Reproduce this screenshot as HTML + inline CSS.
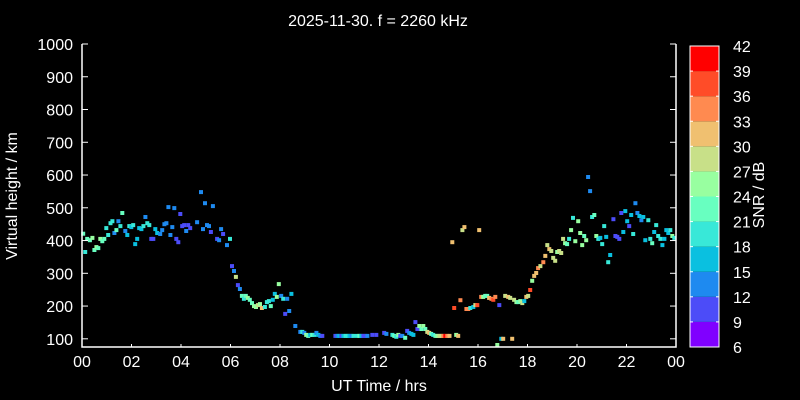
<!DOCTYPE html>
<html><head><meta charset="utf-8"><style>
html,body{margin:0;padding:0;background:#000;width:800px;height:400px;overflow:hidden}
svg text{font-family:"Liberation Sans",sans-serif;fill:#fff}
</style></head><body>
<svg id="chart" width="800" height="400" xmlns="http://www.w3.org/2000/svg">
<rect width="800" height="400" fill="#000"/>
<text x="378" y="26" font-size="16" text-anchor="middle">2025-11-30. f = 2260 kHz</text>
<text x="379" y="391" font-size="16" text-anchor="middle">UT Time / hrs</text>
<text transform="translate(17,196) rotate(-90)" font-size="16" text-anchor="middle">Virtual height / km</text>
<text transform="translate(764,195) rotate(-90)" font-size="16" text-anchor="middle">SNR / dB</text>
<g id="marks"></g><g id="axes"></g><g id="cbar"></g>
</svg>
<script>
const hours=[0.05,0.13,0.21,0.32,0.42,0.50,0.58,0.66,0.74,0.82,0.90,0.98,1.06,1.15,1.23,1.31,1.39,1.47,1.55,1.63,1.75,1.83,1.91,1.99,2.07,2.15,2.23,2.31,2.40,2.48,2.56,2.64,2.72,2.80,2.88,2.96,3.04,3.16,3.24,3.33,3.41,3.49,3.57,3.65,3.73,3.81,3.89,3.97,4.05,4.13,4.21,4.29,4.37,4.65,4.81,4.89,4.97,5.05,5.13,5.21,5.29,5.46,5.54,5.62,5.70,5.86,5.98,6.06,6.14,6.22,6.30,6.38,6.46,6.54,6.62,6.70,6.78,6.87,6.95,7.03,7.11,7.19,7.27,7.39,7.47,7.55,7.63,7.71,7.79,7.87,7.95,8.05,8.13,8.29,8.46,8.21,8.37,8.62,8.82,8.90,8.98,9.06,9.14,9.22,9.30,9.39,9.47,9.55,9.63,9.71,10.24,10.32,10.40,10.48,10.56,10.65,10.73,10.81,10.89,10.97,11.13,11.21,11.29,11.37,11.45,11.53,11.73,11.89,12.21,12.30,12.54,12.62,12.70,12.78,12.86,12.94,13.06,13.14,13.22,13.31,13.39,13.47,13.55,13.63,13.71,13.79,13.87,13.95,14.03,14.11,14.19,14.28,14.36,14.44,14.52,14.60,14.68,14.76,14.85,15.12,15.20,15.04,15.29,14.96,15.37,15.45,16.05,15.53,15.61,15.69,15.81,15.89,15.97,16.13,16.21,16.29,16.37,16.45,16.54,16.62,16.70,16.86,17.10,17.22,17.30,17.46,17.55,17.63,17.71,17.79,17.87,17.95,18.03,18.11,18.19,18.27,18.35,18.43,18.52,18.64,18.72,18.80,18.88,18.96,19.04,19.12,19.20,19.28,19.36,19.44,19.52,19.60,19.68,19.76,19.84,19.93,20.05,20.13,20.21,20.29,20.37,20.45,20.53,20.61,20.70,20.78,20.86,20.94,21.02,21.10,21.18,21.26,21.34,21.47,21.55,21.63,21.71,21.79,21.87,21.95,22.03,22.11,22.19,22.27,22.36,22.44,22.52,22.60,22.68,22.76,22.88,22.96,23.04,23.12,23.20,23.28,23.37,23.45,23.53,23.61,23.69,23.77,23.85,23.93,16.94,17.02,17.38,16.78];
const heights=[421,365,405,401,408,371,380,377,405,398,405,438,417,453,459,423,432,459,444,484,429,417,444,441,447,389,405,438,435,444,472,453,447,405,405,435,423,420,432,450,453,502,417,441,499,405,395,481,444,447,429,447,438,456,548,435,514,447,444,426,505,405,401,435,420,386,405,322,307,289,264,252,231,222,231,225,219,209,200,197,203,206,194,197,212,215,200,219,237,228,267,231,222,222,237,176,185,139,121,121,118,112,109,112,112,112,118,112,109,109,109,109,109,109,109,109,109,109,109,109,109,109,109,109,109,109,112,112,118,115,112,109,106,112,109,109,103,124,118,115,112,151,130,139,130,139,130,121,118,115,112,109,109,109,109,109,109,109,109,112,109,194,218,395,432,441,432,191,191,194,197,203,203,228,228,231,231,225,222,219,228,203,231,228,225,219,212,212,215,209,215,228,231,249,277,292,301,316,322,334,353,386,374,368,347,338,365,368,362,405,392,389,405,432,469,398,459,423,386,414,401,594,551,472,478,414,405,408,389,444,411,334,356,465,414,411,405,484,426,490,459,444,478,420,514,484,475,462,472,401,462,405,392,426,447,414,405,386,405,432,423,432,414,408,100,100,100,81];
const snr=[22,20,22,22,24,22,24,22,24,22,22,20,20,20,20,13,22,13,20,22,13,16,20,16,20,16,16,16,16,20,13,20,20,10,10,16,16,13,13,13,13,13,13,13,13,10,10,10,10,10,13,10,10,13,13,13,13,13,13,10,13,10,13,13,10,13,20,10,13,28,10,13,22,20,22,24,22,22,24,24,28,24,31,20,20,20,22,16,16,24,24,13,20,13,16,10,13,13,13,20,13,24,22,16,22,20,13,16,13,10,10,13,16,10,16,20,20,16,13,20,20,22,16,10,10,13,10,10,10,13,20,22,20,24,10,13,22,10,13,16,16,10,10,24,22,24,22,28,31,22,20,22,24,27,28,33,39,33,31,24,31,38,35,31,28,31,31,35,33,20,16,28,38,35,24,22,22,31,35,36,33,10,27,31,28,27,24,22,24,28,16,31,27,36,24,31,31,35,27,35,31,28,31,28,27,27,24,27,27,28,24,22,20,24,20,24,24,24,24,22,24,13,13,20,22,24,20,16,20,20,16,20,16,10,10,10,10,10,16,16,16,10,16,20,13,13,16,13,16,16,20,20,22,16,20,20,20,16,16,16,16,20,24,20,16,31,31,24,10];
const cbTicks=[6,9,12,15,18,21,24,27,30,33,36,39,42];
const cbColors=["#8000ff","#4c4cf8","#1e8af0","#0ac0e0","#38e8d8","#68ffc0","#98ffa0","#c8e088","#f0c070","#ff8a50","#ff4c28","#ff0000"];
const xTicks=[0,2,4,6,8,10,12,14,16,18,20,22,24];
const yTicks=[100,200,300,400,500,600,700,800,900,1000];
const NS="http://www.w3.org/2000/svg";
const X0=82,X1=676,Y0=347,Y1=44,YMIN=75,YMAX=1000;
const xs=h=>X0+(h/24)*(X1-X0);
const ys=v=>Y0-(v-YMIN)/(YMAX-YMIN)*(Y0-Y1);
const cb=v=>347-(v-6)/36*(347-46);
function col(s){let i=Math.floor((s-6)/3);return cbColors[Math.max(0,Math.min(11,i))];}
function mk(t,a,p){const e=document.createElementNS(NS,t);for(const k in a)e.setAttribute(k,a[k]);p.appendChild(e);return e;}
const marks=document.getElementById('marks');
for(let i=0;i<hours.length;i++){
 const r=mk('rect',{x:(xs(hours[i])-2).toFixed(1),y:(ys(heights[i])-2).toFixed(1),width:4,height:4,fill:col(snr[i])},marks);
 
 
}
const ax=document.getElementById('axes');
const frame=mk('path',{d:`M${X0},${Y1}V${Y0}H${X1}V${Y1}`,stroke:'#fff','stroke-width':1.5,fill:'none'},ax);


xTicks.forEach(t=>{
 const x=xs(t);
 mk('line',{x1:x,x2:x,y1:Y0,y2:Y0-3,stroke:'#fff'},ax);
 const tx=mk('text',{x:x,y:Y0+20,'font-size':16,'text-anchor':'middle'},ax);
 tx.textContent=String(t%24===0&&t>0?0:t).padStart(2,'0');
 
 
});
yTicks.forEach(t=>{
 const y=ys(t);
 mk('line',{x1:X0,x2:X0+6,y1:y,y2:y,stroke:'#fff'},ax);
 mk('line',{x1:X1,x2:X1-6,y1:y,y2:y,stroke:'#fff'},ax);
 const tx=mk('text',{x:X0-9,y:y+6,'font-size':16,'text-anchor':'end'},ax);
 tx.textContent=t;
 
 
});
const cg=document.getElementById('cbar');


cbColors.forEach((c,i)=>{
 const y1=cb(cbTicks[i+1]),y0=cb(cbTicks[i]);
 const r=mk('rect',{x:690,y:y1,width:29,height:y0-y1,fill:c},cg);
 
 
});
mk('rect',{x:690,y:46,width:29,height:301,fill:'none',stroke:'#fff','stroke-width':1},cg);
cbTicks.forEach(t=>{
 const y=cb(t);
 mk('line',{x1:690,x2:693,y1:y,y2:y,stroke:'#fff'},cg);
 mk('line',{x1:719,x2:716,y1:y,y2:y,stroke:'#fff'},cg);
 const tx=mk('text',{x:733,y:y+6,'font-size':16},cg);
 tx.textContent=t;
 
 
});
</script>
</body></html>
